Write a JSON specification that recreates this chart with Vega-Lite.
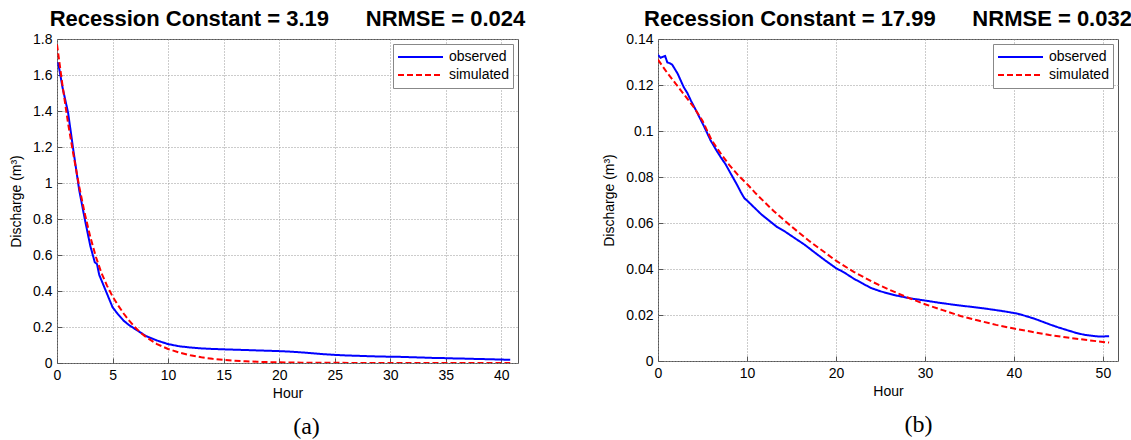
{
  "$schema": "https://vega.github.io/schema/vega-lite/v6.json",
  "background": "white",
  "padding": {"left": 9, "top": 7, "right": 0, "bottom": 0},
  "bounds": "flush",
  "spacing": 140,
  "config": {
    "font": "Liberation Sans",
    "view": {"stroke": "#555555", "strokeWidth": 1},
    "axis": {
      "labelFont": "Liberation Sans", "labelFontSize": 14, "labelColor": "#000000",
      "titleFont": "Liberation Sans", "titleFontSize": 14, "titleFontWeight": "normal", "titleColor": "#000000",
      "grid": true, "gridColor": "#999999", "gridDash": [1, 2], "gridOpacity": 1,
      "domain": false, "ticks": true, "tickSize": -5, "tickColor": "#555555", "labelPadding": 10, "labelFlush": false, "labelOverlap": false
    },
    "title": {"font": "Liberation Sans", "fontSize": 22, "fontWeight": "bold", "color": "#000000", "anchor": "middle", "frame": "group", "offset": 1},
    "legend": {
      "orient": "top-right", "offset": 5, "strokeColor": "#888888", "fillColor": "white",
      "padding": 4, "rowPadding": 0, "symbolType": "stroke", "symbolSize": 2025, "symbolStrokeWidth": 2, "clipHeight": 18,
      "labelFont": "Liberation Sans", "labelFontSize": 14, "labelColor": "#000000", "labelOffset": 5
    }
  },
  "resolve": {
    "scale": {"color": "independent", "strokeDash": "independent"},
    "legend": {"color": "independent", "strokeDash": "independent"}
  },
  "datasets": {
    "a": [
      {"hour": 0.1, "q": 1.67, "series": "observed"},
      {"hour": 0.5, "q": 1.53, "series": "observed"},
      {"hour": 1, "q": 1.39, "series": "observed"},
      {"hour": 1.5, "q": 1.17, "series": "observed"},
      {"hour": 2, "q": 0.96, "series": "observed"},
      {"hour": 2.5, "q": 0.8, "series": "observed"},
      {"hour": 3, "q": 0.65, "series": "observed"},
      {"hour": 3.4, "q": 0.56, "series": "observed"},
      {"hour": 3.6, "q": 0.55, "series": "observed"},
      {"hour": 3.8, "q": 0.49, "series": "observed"},
      {"hour": 4.2, "q": 0.43, "series": "observed"},
      {"hour": 4.6, "q": 0.37, "series": "observed"},
      {"hour": 5, "q": 0.31, "series": "observed"},
      {"hour": 5.5, "q": 0.27, "series": "observed"},
      {"hour": 6, "q": 0.235, "series": "observed"},
      {"hour": 6.5, "q": 0.21, "series": "observed"},
      {"hour": 7, "q": 0.19, "series": "observed"},
      {"hour": 7.5, "q": 0.17, "series": "observed"},
      {"hour": 8, "q": 0.15, "series": "observed"},
      {"hour": 9, "q": 0.125, "series": "observed"},
      {"hour": 10, "q": 0.105, "series": "observed"},
      {"hour": 11, "q": 0.093, "series": "observed"},
      {"hour": 12, "q": 0.086, "series": "observed"},
      {"hour": 13, "q": 0.081, "series": "observed"},
      {"hour": 14, "q": 0.078, "series": "observed"},
      {"hour": 15, "q": 0.076, "series": "observed"},
      {"hour": 16, "q": 0.074, "series": "observed"},
      {"hour": 17, "q": 0.072, "series": "observed"},
      {"hour": 18, "q": 0.07, "series": "observed"},
      {"hour": 19, "q": 0.068, "series": "observed"},
      {"hour": 20, "q": 0.066, "series": "observed"},
      {"hour": 21, "q": 0.063, "series": "observed"},
      {"hour": 22, "q": 0.059, "series": "observed"},
      {"hour": 23, "q": 0.054, "series": "observed"},
      {"hour": 24, "q": 0.049, "series": "observed"},
      {"hour": 25, "q": 0.045, "series": "observed"},
      {"hour": 26, "q": 0.042, "series": "observed"},
      {"hour": 27, "q": 0.04, "series": "observed"},
      {"hour": 28, "q": 0.038, "series": "observed"},
      {"hour": 29, "q": 0.036, "series": "observed"},
      {"hour": 30, "q": 0.035, "series": "observed"},
      {"hour": 31, "q": 0.034, "series": "observed"},
      {"hour": 32, "q": 0.032, "series": "observed"},
      {"hour": 33, "q": 0.03, "series": "observed"},
      {"hour": 34, "q": 0.028, "series": "observed"},
      {"hour": 35, "q": 0.027, "series": "observed"},
      {"hour": 36, "q": 0.025, "series": "observed"},
      {"hour": 37, "q": 0.024, "series": "observed"},
      {"hour": 38, "q": 0.022, "series": "observed"},
      {"hour": 39, "q": 0.021, "series": "observed"},
      {"hour": 40, "q": 0.019, "series": "observed"},
      {"hour": 40.8, "q": 0.018, "series": "observed"},
      {"hour": 0, "q": 1.77, "series": "simulated"},
      {"hour": 0.5, "q": 1.54, "series": "simulated"},
      {"hour": 1, "q": 1.33, "series": "simulated"},
      {"hour": 1.5, "q": 1.15, "series": "simulated"},
      {"hour": 2, "q": 0.98, "series": "simulated"},
      {"hour": 2.5, "q": 0.83, "series": "simulated"},
      {"hour": 3, "q": 0.7, "series": "simulated"},
      {"hour": 3.5, "q": 0.59, "series": "simulated"},
      {"hour": 4, "q": 0.5, "series": "simulated"},
      {"hour": 4.5, "q": 0.43, "series": "simulated"},
      {"hour": 5, "q": 0.37, "series": "simulated"},
      {"hour": 5.5, "q": 0.32, "series": "simulated"},
      {"hour": 6, "q": 0.275, "series": "simulated"},
      {"hour": 6.5, "q": 0.235, "series": "simulated"},
      {"hour": 7, "q": 0.2, "series": "simulated"},
      {"hour": 7.5, "q": 0.17, "series": "simulated"},
      {"hour": 8, "q": 0.145, "series": "simulated"},
      {"hour": 9, "q": 0.105, "series": "simulated"},
      {"hour": 10, "q": 0.078, "series": "simulated"},
      {"hour": 11, "q": 0.058, "series": "simulated"},
      {"hour": 12, "q": 0.043, "series": "simulated"},
      {"hour": 13, "q": 0.032, "series": "simulated"},
      {"hour": 14, "q": 0.023, "series": "simulated"},
      {"hour": 15, "q": 0.017, "series": "simulated"},
      {"hour": 16, "q": 0.013, "series": "simulated"},
      {"hour": 17, "q": 0.0095, "series": "simulated"},
      {"hour": 18, "q": 0.007, "series": "simulated"},
      {"hour": 19, "q": 0.005, "series": "simulated"},
      {"hour": 20, "q": 0.0037, "series": "simulated"},
      {"hour": 22, "q": 0.002, "series": "simulated"},
      {"hour": 24, "q": 0.001, "series": "simulated"},
      {"hour": 27, "q": 0.0005, "series": "simulated"},
      {"hour": 30, "q": 0.0002, "series": "simulated"},
      {"hour": 35, "q": 0.0001, "series": "simulated"},
      {"hour": 40.8, "q": 0, "series": "simulated"}
    ],
    "b": [
      {"hour": 0, "q": 0.1331, "series": "observed"},
      {"hour": 0.3, "q": 0.1318, "series": "observed"},
      {"hour": 0.5, "q": 0.1322, "series": "observed"},
      {"hour": 0.8, "q": 0.1326, "series": "observed"},
      {"hour": 1.05, "q": 0.1298, "series": "observed"},
      {"hour": 1.3, "q": 0.1295, "series": "observed"},
      {"hour": 1.6, "q": 0.1288, "series": "observed"},
      {"hour": 2.2, "q": 0.125, "series": "observed"},
      {"hour": 2.9, "q": 0.119, "series": "observed"},
      {"hour": 3.3, "q": 0.1165, "series": "observed"},
      {"hour": 3.7, "q": 0.1132, "series": "observed"},
      {"hour": 4.4, "q": 0.108, "series": "observed"},
      {"hour": 5.2, "q": 0.1018, "series": "observed"},
      {"hour": 5.9, "q": 0.096, "series": "observed"},
      {"hour": 6.5, "q": 0.092, "series": "observed"},
      {"hour": 7.05, "q": 0.0886, "series": "observed"},
      {"hour": 7.6, "q": 0.0855, "series": "observed"},
      {"hour": 8.2, "q": 0.0813, "series": "observed"},
      {"hour": 8.9, "q": 0.0765, "series": "observed"},
      {"hour": 9.3, "q": 0.0735, "series": "observed"},
      {"hour": 9.7, "q": 0.0708, "series": "observed"},
      {"hour": 10, "q": 0.0698, "series": "observed"},
      {"hour": 10.8, "q": 0.0668, "series": "observed"},
      {"hour": 11.6, "q": 0.0638, "series": "observed"},
      {"hour": 12.5, "q": 0.061, "series": "observed"},
      {"hour": 13.4, "q": 0.0582, "series": "observed"},
      {"hour": 14.3, "q": 0.0562, "series": "observed"},
      {"hour": 15.3, "q": 0.0536, "series": "observed"},
      {"hour": 16.5, "q": 0.0505, "series": "observed"},
      {"hour": 17.6, "q": 0.0472, "series": "observed"},
      {"hour": 18.8, "q": 0.0437, "series": "observed"},
      {"hour": 20, "q": 0.0404, "series": "observed"},
      {"hour": 21, "q": 0.0383, "series": "observed"},
      {"hour": 22, "q": 0.0358, "series": "observed"},
      {"hour": 23, "q": 0.0337, "series": "observed"},
      {"hour": 23.9, "q": 0.0318, "series": "observed"},
      {"hour": 25, "q": 0.0303, "series": "observed"},
      {"hour": 26.5, "q": 0.0287, "series": "observed"},
      {"hour": 28.4, "q": 0.0272, "series": "observed"},
      {"hour": 30, "q": 0.0263, "series": "observed"},
      {"hour": 31.8, "q": 0.0252, "series": "observed"},
      {"hour": 34, "q": 0.0241, "series": "observed"},
      {"hour": 36.6, "q": 0.0229, "series": "observed"},
      {"hour": 38.9, "q": 0.0216, "series": "observed"},
      {"hour": 40.4, "q": 0.0206, "series": "observed"},
      {"hour": 41.3, "q": 0.0196, "series": "observed"},
      {"hour": 42.3, "q": 0.0184, "series": "observed"},
      {"hour": 43.2, "q": 0.0171, "series": "observed"},
      {"hour": 44.1, "q": 0.0158, "series": "observed"},
      {"hour": 45, "q": 0.0146, "series": "observed"},
      {"hour": 46, "q": 0.0134, "series": "observed"},
      {"hour": 47, "q": 0.0122, "series": "observed"},
      {"hour": 47.9, "q": 0.0114, "series": "observed"},
      {"hour": 48.7, "q": 0.011, "series": "observed"},
      {"hour": 49.4, "q": 0.0107, "series": "observed"},
      {"hour": 50.2, "q": 0.0107, "series": "observed"},
      {"hour": 50.7, "q": 0.0108, "series": "observed"},
      {"hour": 0, "q": 0.131, "series": "simulated"},
      {"hour": 1, "q": 0.1255, "series": "simulated"},
      {"hour": 2, "q": 0.1205, "series": "simulated"},
      {"hour": 3, "q": 0.1155, "series": "simulated"},
      {"hour": 4, "q": 0.1105, "series": "simulated"},
      {"hour": 5, "q": 0.1045, "series": "simulated"},
      {"hour": 6, "q": 0.0962, "series": "simulated"},
      {"hour": 7, "q": 0.0905, "series": "simulated"},
      {"hour": 8, "q": 0.0853, "series": "simulated"},
      {"hour": 9, "q": 0.0808, "series": "simulated"},
      {"hour": 10, "q": 0.077, "series": "simulated"},
      {"hour": 11, "q": 0.0728, "series": "simulated"},
      {"hour": 12, "q": 0.069, "series": "simulated"},
      {"hour": 13, "q": 0.0652, "series": "simulated"},
      {"hour": 14, "q": 0.0618, "series": "simulated"},
      {"hour": 15, "q": 0.0585, "series": "simulated"},
      {"hour": 16, "q": 0.0553, "series": "simulated"},
      {"hour": 17, "q": 0.0522, "series": "simulated"},
      {"hour": 18, "q": 0.0493, "series": "simulated"},
      {"hour": 19, "q": 0.0465, "series": "simulated"},
      {"hour": 20, "q": 0.0436, "series": "simulated"},
      {"hour": 22, "q": 0.0388, "series": "simulated"},
      {"hour": 24, "q": 0.0346, "series": "simulated"},
      {"hour": 26, "q": 0.031, "series": "simulated"},
      {"hour": 28, "q": 0.0277, "series": "simulated"},
      {"hour": 30, "q": 0.0247, "series": "simulated"},
      {"hour": 32, "q": 0.0221, "series": "simulated"},
      {"hour": 34, "q": 0.0196, "series": "simulated"},
      {"hour": 36, "q": 0.0176, "series": "simulated"},
      {"hour": 38, "q": 0.0157, "series": "simulated"},
      {"hour": 40, "q": 0.0141, "series": "simulated"},
      {"hour": 42, "q": 0.0127, "series": "simulated"},
      {"hour": 44, "q": 0.0113, "series": "simulated"},
      {"hour": 46, "q": 0.0102, "series": "simulated"},
      {"hour": 48, "q": 0.0092, "series": "simulated"},
      {"hour": 50, "q": 0.0083, "series": "simulated"},
      {"hour": 50.7, "q": 0.008, "series": "simulated"}
    ]
  },
  "hconcat": [
    {
      "width": 461,
      "height": 324,
      "title": {"text": "Recession Constant = 3.19\u00a0\u00a0\u00a0\u00a0\u00a0\u00a0NRMSE = 0.024"},
      "data": {"name": "a"},
      "layer": [
        {
          "mark": {"type": "line", "strokeWidth": 2, "clip": true},
          "encoding": {
            "x": {"field": "hour", "type": "quantitative", "scale": {"domain": [0, 41.5], "nice": false, "zero": false},
                  "axis": {"values": [0, 5, 10, 15, 20, 25, 30, 35, 40], "title": "Hour", "titlePadding": 4, "labelOverlap": false}},
            "y": {"field": "q", "type": "quantitative", "scale": {"domain": [0, 1.8], "nice": false},
                  "axis": {"values": [0, 0.2, 0.4, 0.6, 0.8, 1, 1.2, 1.4, 1.6, 1.8], "format": "~g", "title": "Discharge (m³)", "titlePadding": 9, "labelOverlap": false}},
            "color": {"field": "series", "type": "nominal", "scale": {"domain": ["observed", "simulated"], "range": ["#0000ff", "#ff0000"]}, "legend": {"title": null}},
            "strokeDash": {"field": "series", "type": "nominal", "scale": {"domain": ["observed", "simulated"], "range": [[1, 0], [6, 3]]}, "legend": {"title": null}}
          }
        },
        {
          "mark": {"type": "rule", "opacity": 0},
          "encoding": {
            "x": {"field": "hour", "type": "quantitative",
                  "axis": {"title": "(a)", "orient": "bottom", "labels": false, "ticks": false, "domain": false, "grid": false,
                           "titleFont": "Liberation Serif", "titleFontSize": 24, "titleFontWeight": "normal", "titlePadding": 51, "titleX": 249}}
          }
        }
      ],
      "resolve": {"axis": {"x": "independent"}}
    },
    {
      "width": 460,
      "height": 322,
      "title": {"text": "Recession Constant = 17.99\u00a0\u00a0\u00a0\u00a0\u00a0\u00a0NRMSE = 0.032"},
      "data": {"name": "b"},
      "layer": [
        {
          "mark": {"type": "line", "strokeWidth": 2, "clip": true},
          "encoding": {
            "x": {"field": "hour", "type": "quantitative", "scale": {"domain": [0, 51.7], "nice": false, "zero": false},
                  "axis": {"values": [0, 10, 20, 30, 40, 50], "title": "Hour", "titlePadding": 4, "labelOverlap": false}},
            "y": {"field": "q", "type": "quantitative", "scale": {"domain": [0, 0.14], "nice": false},
                  "axis": {"values": [0, 0.02, 0.04, 0.06, 0.08, 0.1, 0.12, 0.14], "format": "~g", "title": "Discharge (m³)", "titlePadding": 9, "labelOverlap": false}},
            "color": {"field": "series", "type": "nominal", "scale": {"domain": ["observed", "simulated"], "range": ["#0000ff", "#ff0000"]}, "legend": {"title": null}},
            "strokeDash": {"field": "series", "type": "nominal", "scale": {"domain": ["observed", "simulated"], "range": [[1, 0], [6, 3]]}, "legend": {"title": null}}
          }
        },
        {
          "mark": {"type": "rule", "opacity": 0},
          "encoding": {
            "x": {"field": "hour", "type": "quantitative",
                  "axis": {"title": "(b)", "orient": "bottom", "labels": false, "ticks": false, "domain": false, "grid": false,
                           "titleFont": "Liberation Serif", "titleFontSize": 24, "titleFontWeight": "normal", "titlePadding": 51, "titleX": 260}}
          }
        }
      ],
      "resolve": {"axis": {"x": "independent"}}
    }
  ]
}
